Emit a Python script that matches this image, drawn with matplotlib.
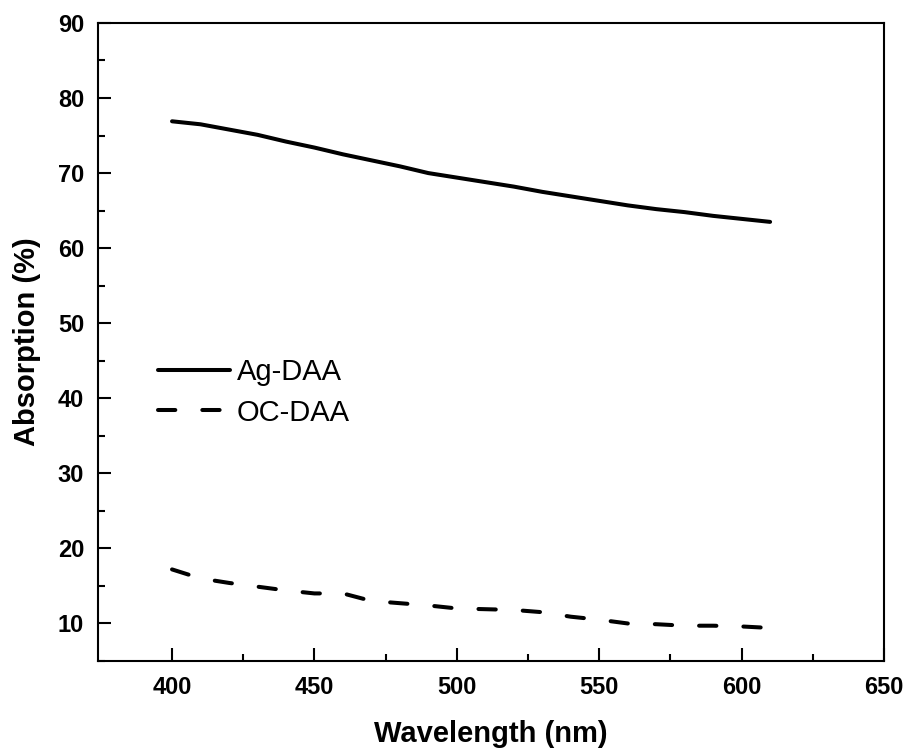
import matplotlib
matplotlib.use("Agg")
import matplotlib.pyplot as plt
from matplotlib.ticker import MultipleLocator, FixedLocator

plt.rcParams['font.family'] = ['Liberation Sans', 'DejaVu Sans']

wavelength = [400, 410, 420, 430, 440, 450, 460, 470, 480, 490, 500,
              510, 520, 530, 540, 550, 560, 570, 580, 590, 600, 610]
ag_daa = [76.9, 76.5, 75.8, 75.1, 74.2, 73.4, 72.5, 71.7, 70.9, 70.0, 69.4,
          68.8, 68.2, 67.5, 66.9, 66.3, 65.7, 65.2, 64.8, 64.3, 63.9, 63.5]
oc_daa = [17.2, 16.0, 15.4, 14.9, 14.4, 14.0, 14.0, 13.0, 12.7, 12.4, 12.0,
          11.9, 11.8, 11.5, 10.9, 10.5, 10.0, 9.9, 9.7, 9.7, 9.6, 9.4]
labels = ["Ag-DAA", "OC-DAA"]
x_minor = [425, 475, 525, 575, 625]

fig = plt.figure(figsize=(9.09, 7.53), dpi=100)
ax = fig.add_axes([0.1078, 0.1222, 0.8647, 0.8473])

lw = 2.9
ax.plot(wavelength, ag_daa, color='black', lw=lw, solid_capstyle='round',
        solid_joinstyle='round', label=labels[0])
l2, = ax.plot(wavelength, oc_daa, color='black', lw=lw, dash_capstyle='round',
              label=labels[1])
l2.set_dashes((4.3, 6.7))

ax.set_xlim(374, 650)
ax.set_ylim(5, 90)
ax.xaxis.set_major_locator(MultipleLocator(50))
ax.xaxis.set_minor_locator(FixedLocator(x_minor))
ax.yaxis.set_major_locator(MultipleLocator(10))
ax.yaxis.set_minor_locator(MultipleLocator(5))

for s in ax.spines.values():
    s.set_linewidth(1.5)
ax.tick_params(which='both', direction='in', top=False, right=False, width=1.5)
ax.tick_params(which='major', length=9.5)
ax.tick_params(which='minor', length=5)
ax.tick_params(axis='x', which='major', pad=11, labelsize=17)
ax.tick_params(axis='y', which='major', pad=10, labelsize=17)
for t in ax.get_xticklabels() + ax.get_yticklabels():
    t.set_fontweight('bold')

ax.set_xlabel('Wavelength (nm)', fontsize=21, fontweight='bold', labelpad=15)
ax.set_ylabel('Absorption (%)', fontsize=21, fontweight='bold', labelpad=12)

leg = ax.legend(loc='center left', bbox_to_anchor=(0.0763, 0.421), frameon=False,
                fontsize=21, handlelength=2.46, handletextpad=0.24,
                labelspacing=0.42, borderpad=0, borderaxespad=0)

fig.savefig('out.png', dpi=100)
